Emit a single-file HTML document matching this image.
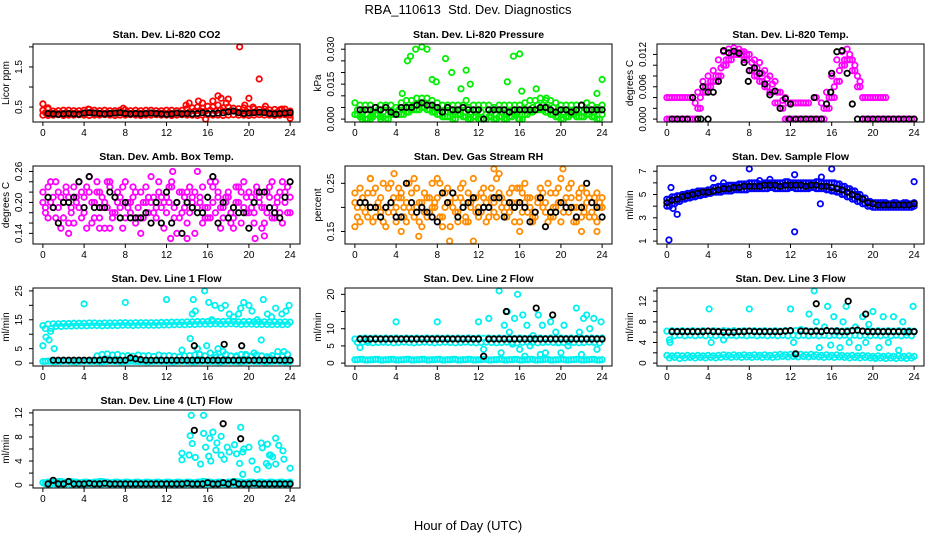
<!DOCTYPE html>
<html><head><meta charset="utf-8"><style>
body{margin:0;background:#fff}
svg{display:block;font-family:"Liberation Sans",Arial,sans-serif}
</style></head><body>
<svg id="chart" width="936" height="540" viewBox="0 0 936 540">
<rect width="936" height="540" fill="#fff"/>
<text x="468" y="14" font-size="13" text-anchor="middle" xml:space="preserve">RBA_110613  Std. Dev. Diagnostics</text>
<text x="468" y="530" font-size="13" text-anchor="middle">Hour of Day (UTC)</text>
</svg>
<script>
// ---------- data ----------
const hourTicks=[0,4,8,12,16,20,24];
// CO2
const co2Hi=[0.42,0.45,0.40,0.41,0.42,0.42,0.41,0.41,0.42,0.44,0.42,0.41,0.42,0.41,0.41,0.42,0.43,0.41,0.42,0.41,0.42,0.42,0.41,0.41,0.42,0.42,0.41,0.42,0.46,0.48,0.50,0.47,0.52,0.50,0.55,0.48,0.50,0.47,0.46,0.48,0.45,0.46,0.44,0.45,0.43,0.44,0.43,0.45,0.40];
const co2Mid=[0.36,0.35,0.36,0.35,0.36,0.35,0.36,0.35,0.36,0.37,0.36,0.35,0.36,0.35,0.36,0.35,0.36,0.35,0.36,0.35,0.36,0.35,0.36,0.35,0.36,0.35,0.36,0.35,0.38,0.40,0.41,0.39,0.42,0.40,0.43,0.40,0.41,0.39,0.38,0.39,0.37,0.38,0.37,0.38,0.36,0.37,0.36,0.37,0.35];
const co2Lo=[0.30,0.29,0.30,0.31,0.29,0.30,0.30,0.31,0.30,0.29,0.30,0.30,0.31,0.30,0.29,0.30,0.30,0.31,0.30,0.29,0.30,0.30,0.31,0.30,0.30,0.29,0.30,0.31,0.30,0.30,0.29,0.30,0.31,0.30,0.30,0.29,0.30,0.31,0.30,0.30,0.29,0.30,0.31,0.30,0.30,0.29,0.30,0.31,0.30];
const co2Black=[null,0.34,0.33,0.32,0.33,0.34,0.33,0.32,0.35,0.36,0.35,0.34,0.33,0.34,0.35,0.36,0.34,0.33,0.34,0.33,0.34,0.35,0.34,0.33,0.32,0.33,0.35,0.33,0.34,0.33,0.34,0.36,0.34,0.34,0.35,0.36,0.38,0.40,0.36,0.34,0.35,0.36,0.37,0.36,0.34,0.33,0.34,0.35,0.36];
const co2Out=[[0,0.58],[0.5,0.48],[4.4,0.45],[7.8,0.47],[13.9,0.55],[14.2,0.6],[15.1,0.65],[15.5,0.6],[15.8,0.2],[16.5,0.65],[17,0.78],[17.3,0.72],[17.8,0.6],[18,0.7],[19.1,2.0],[19.6,0.55],[20,0.72],[20.4,0.5],[21,1.2],[21.6,0.52],[23.2,0.45],[24,0.22]];
const co2Ticks=[0.5,1.0,1.5,2.0];const co2Labels=["0.5","","1.5",""];
// Pressure
const presHi=[.007,.006,.006,.006,.005,.006,.006,.006,.005,.007,.008,.008,.009,.009,.009,.008,.007,.006,.006,.006,.006,.006,.005,.006,.006,.006,.006,.005,.006,.006,.006,.006,.006,.007,.008,.008,.009,.008,.008,.007,.006,.006,.006,.006,.006,.007,.006,.005,.006];
const presMid=[.004,.003,.004,.003,.004,.003,.004,.003,.004,.004,.005,.006,.006,.007,.006,.005,.004,.003,.004,.003,.004,.003,.003,.004,.003,.002,.003,.004,.003,.003,.004,.003,.004,.004,.005,.006,.006,.005,.005,.004,.003,.004,.003,.004,.003,.004,.003,.004,.004];
const presLo=[.002,.001,0,.001,.002,.001,0,.002,.002,.002,.003,.004,.004,.005,.004,.003,.002,.001,.001,0,.002,.001,0,.001,0,0,.001,0,.001,0,.001,.002,0,.002,.003,.004,.004,.003,.002,.001,0,.001,.002,.001,.001,.002,.001,0,.002];
const presBlack=[null,.004,.004,.004,.005,.004,.005,.003,.002,.005,.005,.005,.006,.007,.006,.006,.005,.003,.005,.004,.004,.005,.004,.004,.004,.000,.004,.004,.004,.004,.003,.004,.004,.004,.004,.004,.005,.005,.004,.003,.004,.004,.003,.004,.006,.004,.004,.004,.004];
const presOut=[[4.6,.011],[5.1,.025],[5.4,.027],[5.9,.030],[6.5,.031],[7,.030],[7.5,.017],[7.9,.016],[8.8,.026],[9.4,.020],[10.3,.013],[10.8,.021],[11.2,.015],[14.8,.016],[15.4,.027],[16,.028],[16.2,.012],[17.6,.013],[23.5,.011],[24,.017],[10.8,.008],[18.6,.009],[0.7,0],[1.5,0],[2.5,0],[15.9,0]];
const presTicks=[0,.005,.010,.015,.020,.025,.030];const presLabels=["0.000","","","0.015","","","0.030"];
// Li-820 Temp
const tempHi=[.004,.004,.004,.004,.004,.004,.005,.007,.008,.009,.011,.0125,.013,.0132,.013,.0125,.012,.011,.0105,.009,.008,.007,.005,.004,.003,.003,.003,.003,null,.004,.003,.005,.008,.011,.0125,.013,.011,.008,.004,.004,.004,.004,.004,null,null,null,null,null,null];
const tempLo=[0,0,0,0,0,0,.002,.005,.006,.007,.008,.010,.011,.012,.012,.011,.009,.008,.007,.006,.005,.003,.002,0,0,0,0,0,0,0,0,.002,.004,.007,.010,.011,.009,.006,0,0,0,0,0,0,0,0,0,0,0];
const tempMid=[.004,.004,.004,.004,.004,.003,.004,.006,.007,.008,.0095,.011,.012,.0125,.0125,.012,.0105,.0095,.0085,.0075,.0065,.005,.0035,.003,.003,.003,.003,.003,null,null,.002,.004,.006,.009,.011,.012,.010,.007,.004,.004,.004,.004,.004,null,null,null,null,null,null];
const tempBlack=[null,0,0,0,0,.004,0,.006,.005,.005,.007,.0127,.0123,.0126,.0122,.0105,.009,.0095,.0085,.0065,.0045,.0052,.002,.0038,.0028,0,0,0,0,0,0,.0028,.0085,.0125,.0127,.0085,.0028,0,0,0,0,0,0,0,0,0,0,0,0];
const tempOut=[[3.3,0],[4,0],[7.9,.007],[11.9,0],[15.9,.005],[14.3,.004]];
const tempTicks=[0,.002,.004,.006,.008,.010,.012];const tempLabels=["0.000","","","0.006","","","0.012"];
// Amb box temp
const abA=[.22,.23,.21,.19,.17,.21,.16,.24,.18,.22,.20,.17,.15,.23,.21,.19,.24,.18,.16,.22,.20,.25,.17,.19,.21,.23,.14,.18,.22,.20,.26,.16,.19,.23,.21,.17,.22,.15,.20,.24,.18,.16,.21,.19,.23,.17,.22,.20,.18];
const abB=[.18,.20,.24,.15,.22,.19,.21,.17,.23,.16,.24,.21,.19,.17,.22,.15,.20,.23,.19,.17,.21,.18,.24,.15,.20,.17,.22,.19,.23,.14,.21,.19,.17,.24,.15,.20,.18,.23,.16,.21,.19,.22,.15,.18,.24,.20,.16,.23,.19];
const abC=[.20,.17,.19,.22,.20,.16,.23,.19,.21,.25,.17,.22,.20,.24,.18,.21,.17,.20,.22,.14,.23,.20,.19,.21,.18,.24,.20,.22,.16,.21,.19,.23,.17,.20,.22,.19,.21,.17,.23,.19,.22,.18,.20,.16,.21,.19,.18,.22,.21];
const abD=[.19,.24,.17,.21,.23,.18,.20,.22,.15,.20,.22,.19,.24,.18,.20,.23,.19,.21,.17,.20,.18,.21,.22,.20,.23,.19,.17,.21,.18,.22,.20,.17,.24,.18,.19,.21,.16,.20,.22,.18,.21,.23,.19,.22,.17,.21,.24,.18,.20];
const abBlack=[null,.21,.19,.16,.20,.20,.21,.24,.19,.25,.19,.19,.19,.22,.21,.17,.20,.17,.17,.17,.18,.16,.20,.16,.22,.16,.20,.14,.20,.19,.18,.18,.21,.25,.16,.20,.17,.19,.18,.18,.15,.20,.22,.22,.19,.18,.17,.21,.24];
const abOut=[[12.6,.26],[12.4,.13],[2.5,.14],[14,.13],[20.6,.13],[21.5,.135],[5.5,.15],[6.5,.15]];
const abTicks=[.14,.16,.18,.20,.22,.24,.26];const abLabels=["0.14","","","0.20","","","0.26"];
// Gas stream RH
const rhA=[.21,.24,.19,.26,.18,.22,.20,.25,.17,.23,.21,.19,.24,.16,.22,.20,.26,.18,.21,.23,.19,.25,.17,.22,.20,.24,.18,.21,.27,.19,.23,.20,.17,.25,.22,.19,.24,.21,.18,.23,.26,.20,.22,.17,.24,.21,.19,.23,.20];
const rhB=[.18,.20,.23,.17,.21,.25,.19,.22,.24,.18,.20,.26,.17,.23,.19,.21,.25,.20,.16,.22,.24,.18,.21,.19,.23,.17,.22,.26,.20,.18,.24,.21,.23,.19,.17,.22,.20,.25,.18,.21,.19,.24,.17,.23,.20,.22,.18,.21,.24];
const rhC=[.23,.17,.21,.20,.24,.19,.16,.21,.20,.22,.17,.23,.20,.21,.18,.25,.22,.16,.24,.20,.17,.21,.23,.26,.18,.22,.20,.19,.23,.21,.19,.17,.24,.21,.20,.18,.22,.19,.23,.20,.17,.22,.25,.20,.18,.23,.21,.17,.22];
const rhD=[.20,.22,.18,.23,.20,.17,.24,.19,.22,.20,.25,.18,.21,.19,.22,.20,.18,.23,.21,.19,.22,.17,.20,.22,.19,.21,.24,.18,.22,.20,.21,.24,.19,.22,.18,.21,.23,.17,.20,.24,.21,.19,.20,.22,.19,.18,.22,.20,.19];
const rhBlack=[null,.21,.21,.20,.20,.18,.20,.21,.18,.18,.25,.21,.19,.20,.19,.18,.17,.23,.21,.23,.18,.20,.21,.22,.19,.20,.20,.22,.22,.18,.21,.20,.21,.20,.17,.19,.22,.16,.19,.19,.21,.20,.20,.18,.20,.25,.21,.20,.18];
const rhOut=[[1.5,.26],[3.8,.27],[4.5,.15],[6.2,.14],[9.2,.13],[11.5,.13],[13.5,.28],[20.2,.28],[16,.15],[22,.15],[23.5,.15],[0,.16]];
const rhTicks=[.15,.20,.25];const rhLabels=["0.15","","0.25"];
// Sample flow
const sfHi=[4.6,4.8,4.9,5.0,5.1,5.2,5.3,5.3,5.4,5.6,5.7,5.7,5.8,5.8,5.9,5.9,6.0,6.0,5.9,6.0,6.0,6.0,6.0,6.1,6.0,6.0,6.0,6.0,6.0,6.1,6.0,6.0,6.0,5.9,5.7,5.5,5.3,5.0,4.7,4.4,4.3,4.3,4.3,4.2,4.3,4.2,4.3,4.2,4.3];
const sfLo=[4.0,4.2,4.4,4.6,4.7,4.8,4.9,5.0,5.1,5.2,5.2,5.3,5.3,5.4,5.4,5.4,5.5,5.5,5.5,5.5,5.6,5.5,5.5,5.5,5.6,5.5,5.5,5.5,5.6,5.5,5.5,5.4,5.3,5.2,5.0,4.8,4.6,4.4,4.2,4.0,3.9,3.9,3.9,3.9,3.9,3.9,3.9,3.9,4.0];
const sfBlack=[4.3,4.5,4.6,4.8,4.9,5.0,5.1,5.2,5.2,5.3,5.4,5.5,5.5,5.6,5.6,5.7,5.7,5.7,5.7,5.8,5.8,5.8,5.7,5.8,5.8,5.8,5.8,5.7,5.8,5.8,5.7,5.7,5.6,5.5,5.4,5.2,5.0,4.8,4.6,4.3,4.2,4.1,4.1,4.1,4.1,4.1,4.1,4.1,4.2];
const sfOut=[[0.2,1.1],[0.4,5.6],[0.6,3.8],[1,3.3],[4.5,6.4],[8,7.2],[9,6.2],[12.4,1.8],[12.4,6.7],[14.9,4.2],[16,7.2],[24,6.1],[5.5,6.0],[10,6.3],[15,6.5]];
const sfTicks=[1,2,3,4,5,6,7];const sfLabels=["1","","3","","5","","7"];
// Line 1
const l1Hi=[13,13.5,13.6,13.6,13.7,13.7,13.8,13.8,13.8,13.9,13.9,13.8,13.9,13.9,13.9,14,14,13.9,14,14,14,14,14,14.1,14.1,14.2,14.2,14.2,14.3,14.3,14.4,14.4,14.4,14.5,14.4,14.4,14.5,14.4,14.3,14.4,14.4,14.3,14.3,14.3,14.2,14.3,14.2,14.3,14.2];
const l1Lo=[12,11,12.7,12.7,12.8,12.8,12.9,12.9,12.9,13,13,12.9,13,13,13,13.1,13.1,13,13.1,13.1,13.1,13.1,13.1,13.2,13.2,13.3,13.3,13.3,13.4,13.4,13.5,13.5,13.5,13.6,13.5,13.5,13.6,13.5,13.4,13.5,13.5,13.4,13.4,13.4,13.3,13.4,13.3,13.4,13.3];
const l1Base=[0.6,0.7,0.5,0.6,0.7,0.6,0.5,0.6,0.7,0.6,0.6,0.5,0.6,0.7,0.6,0.5,0.6,0.7,0.6,0.6,0.5,0.6,0.7,0.6,0.6,0.5,0.6,0.7,0.6,0.5,0.6,0.7,0.6,0.6,0.5,0.6,0.7,0.6,0.5,0.6,0.7,0.6,0.6,0.5,0.6,0.7,0.6,0.5,0.6];
const l1Mid=[null,null,null,null,null,null,null,null,null,null,2.5,3,3.2,2.8,3,2.5,2.6,2.4,2.8,2.5,2.6,2.3,2.8,2.5,2.6,2.4,2.2,2.5,2.6,2.8,3,2.5,3.5,2.8,2,3,2.5,2.2,3,2.6,2.4,2.8,2.5,2.2,2.6,2.4,2.5,3,2.5];
const l1Black=[null,null,1,1,1,1,1,1,1,1,1,1,1.2,1,1,1,1,1.8,1.5,1.2,1,1,1,1,1,1,1,1,1,1,1,1,1,1,1,1,1,1,1,1,1,1,1,1,1,1,1,1,1];
const l1Out=[[0,6],[0.3,9],[0.6,8],[0.8,12],[1.1,5],[4,20.5],[8,21],[12,22],[13.5,4.5],[14.3,8.5],[14.5,17],[14.6,22],[14.8,18],[15,5],[15.7,25],[15.9,6],[16.1,21],[16.4,15],[16.7,20],[17,5],[17.3,19],[17.7,20],[18.1,17],[18.5,16],[19,17],[19.2,19],[19.5,21],[19.7,3],[20,20],[20.3,18],[20.8,15],[21.2,8],[21.4,22],[21.8,17],[22.2,16],[22.6,19],[22.8,4],[23.2,17],[23.6,18],[23.9,20],[15.2,3],[16.8,2],[17.5,4],[18.8,2.5],[20.5,3.5],[22,2],[23.4,4]];
const l1BlackOut=[[14.7,6],[17.6,6.5],[19.3,6]];
const l1Ticks=[0,5,10,15,20,25];const l1Labels=["0","5","","15","","25"];
// Line 2
const l2Hi=[7,7.2,7.3,7.2,7.3,7.2,7.3,7.2,7.3,7.2,7.3,7.2,7.3,7.2,7.3,7.2,7.3,7.2,7.3,7.2,7.3,7.2,7.3,7.2,7.3,7.2,7.3,7.2,7.3,7.2,7.3,7.2,7.3,7.2,7.3,7.2,7.3,7.2,7.3,7.2,7.3,7.2,7.3,7.2,7.3,7.2,7.3,7.2,7.3];
const l2Lo=[6,6.1,6,5.9,6,6.1,6,5.9,6,6.1,6,5.9,6,6.1,6,5.9,6,6.1,6,5.9,6,6.1,6,5.9,6,6.1,6,5.9,6,6.1,6,5.9,6,6.1,6,5.9,6,6.1,6,5.9,6,6.1,6,5.9,6,6.1,6,5.9,6];
const l2Base=[1,1.1,0.9,1,1.1,0.9,1,1.1,0.9,1,1.1,0.9,1,1.1,0.9,1,1.1,0.9,1,1.1,0.9,1,1.1,0.9,1,1.1,0.9,1,1.1,0.9,1,1.1,0.9,1,1.1,0.9,1,1.1,0.9,1,1.1,0.9,1,1.1,0.9,1,1.1,0.9,1];
const l2Black=[null,7,7,7,7,7,7,7,7,7,7,7,7,7,7,7,7,7,7,7,7,7,7,7,7,2,7,7,7,7,7,7,7,7,7,7,7,7,7,7,7,7,7,7,7,7,7,7,7];
const l2Out=[[4,12],[8,12],[12,12],[12.5,4],[13,13],[14,21],[14.2,3],[14.5,11],[14.8,15],[15,9],[15.5,13],[15.8,20],[16,4],[16.3,14],[16.7,11],[17,5],[17.3,8],[17.8,14],[18.2,11],[18.5,3],[19,12],[19.5,9],[19.8,6],[20.3,11],[20.7,5],[21.5,16],[21.8,9],[22.2,13],[22.5,14],[22.8,10],[23.2,13],[23.5,4],[23.9,12],[16.5,2],[18,2.5],[20,3],[22,2.5],[15.3,5.5],[0.5,4.5],[1.2,6.5]];
const l2BlackOut=[[14.7,15],[17.6,16],[19.2,14]];
const l2Ticks=[0,5,10,15,20];const l2Labels=["0","5","10","","20"];
// Line 3
const l3Hi=[6.2,6.3,6.2,6.3,6.2,6.3,6.2,6.3,6.2,6.3,6.2,6.3,6.2,6.3,6.2,6.3,6.2,6.3,6.2,6.3,6.2,6.3,6.2,6.3,6.2,6.3,6.2,6.3,6.2,6.3,6.2,6.3,6.2,6.3,6.2,6.3,6.2,6.3,6.2,6.3,6.2,6.3,6.2,6.3,6.2,6.3,6.2,6.3,6.2];
const l3Lo=[4.5,5.3,5.4,5.3,5.4,5.3,5.4,5.3,5.4,5.3,5.4,5.3,5.4,5.3,5.4,5.3,5.4,5.3,5.4,5.3,5.4,5.3,5.4,5.3,5.4,5.3,5.4,5.3,5.4,5.3,5.4,5.3,5.4,5.3,5.4,5.3,5.4,5.3,5.4,5.3,5.4,5.3,5.4,5.3,5.4,5.3,5.4,5.3,5.4];
const l3Base=[1.5,1.4,1.5,1.4,1.5,1.4,1.5,1.4,1.5,1.4,1.5,1.6,1.5,1.6,1.5,1.6,1.5,1.6,1.5,1.6,1.5,1.6,1.7,1.6,1.7,1.6,1.7,1.6,1.7,1.6,1.5,1.6,1.5,1.6,1.5,1.4,1.5,1.4,1.5,1.4,1.3,1.4,1.3,1.4,1.3,1.4,1.3,1.4,1.3];
const l3Base2=[1.0,1.1,0.9,1.0,1.1,1.0,1.1,1.0,1.1,1.0,1.1,1.2,1.1,1.2,1.1,1.2,1.1,1.2,1.1,1.2,1.1,1.2,1.3,1.2,1.3,1.2,1.3,1.2,1.3,1.2,1.1,1.2,1.1,1.2,1.1,1.0,1.1,1.0,1.1,1.0,0.9,1.0,0.9,1.0,0.9,1.0,0.9,1.0,0.9];
const l3Black=[null,6.1,6.1,6.1,6.1,6.1,6.1,6.1,6.2,6.1,6.1,6,6,6,6.1,6.1,6.2,6.1,6.1,6.1,6.1,6.1,6.1,6.2,6.3,1.8,6.2,6.2,6.1,6.2,6.1,6.3,6.2,6.2,6.1,6.1,6.3,6.4,6.2,6.1,6.1,6.1,6.1,6.1,6.1,6.1,6.1,6.1,6.1];
const l3Out=[[4.1,10.5],[8,10.5],[4.3,4],[12,10.5],[12.3,4],[13,6.5],[13.8,9.5],[14.3,14],[14.5,8],[14.8,3],[15.3,7],[15.6,11],[15.9,3.5],[16.2,9],[16.5,6],[16.8,3],[17.1,8],[17.4,11],[17.7,4],[18.3,7],[18.6,3],[19,9],[19.3,4],[19.6,7.5],[20,10],[20.2,1],[20.6,3],[21,9],[21.5,4],[22,9],[22.5,2.5],[22.9,8],[23.3,6],[23.9,11],[5.5,4.5],[0.3,4]];
const l3BlackOut=[[14.5,11.5],[17.6,12],[19.3,9.5]];
const l3Ticks=[0,2,4,6,8,10,12,14];const l3Labels=["0","","4","","8","","12",""];
// Line 4
const l4Hi=[0.4,0.5,0.5,0.6,0.5,0.6,0.5,0.4,0.5,0.4,0.5,0.6,0.5,0.4,0.5,0.4,0.5,0.4,0.5,0.4,0.5,0.4,0.5,0.4,0.5,0.4,0.5,0.4,0.5,0.4,0.5,0.6,0.5,0.4,0.5,0.4,0.5,0.6,0.5,0.4,0.5,0.4,0.5,0.4,0.5,0.4,0.5,0.4,0.5];
const l4Lo=[0.2,0.1,0.2,0.1,0.2,0.1,0.2,0.1,0.2,0.1,0.2,0.1,0.2,0.1,0.2,0.1,0.2,0.1,0.2,0.1,0.2,0.1,0.2,0.1,0.2,0.1,0.2,0.1,0.2,0.1,0.2,0.1,0.2,0.1,0.2,0.1,0.2,0.1,0.2,0.1,0.2,0.1,0.2,0.1,0.2,0.1,0.2,0.1,0.2];
const l4Black=[null,0.2,0.8,0.2,0.2,0.6,0.2,0.2,0.2,0.3,0.2,0.2,0.3,0.2,0.2,0.2,0.2,0.2,0.2,0.2,0.2,0.2,0.2,0.2,0.2,0.2,0.2,0.2,0.3,0.2,0.2,0.2,0.4,0.2,0.2,0.4,0.2,0.5,0.2,0.2,0.2,0.3,0.2,0.2,0.2,0.2,0.2,0.2,0.2];
const l4Out=[[13.5,5.3],[13.5,4.2],[14.2,5],[14.3,8.2],[14.4,11.6],[14.5,6.9],[14.8,4.6],[15.3,3.5],[15.6,11.6],[15.6,8.6],[15.8,6.3],[16.1,4.8],[16.2,7.8],[16.3,4],[16.5,8.8],[16.8,5.8],[16.9,7],[17.3,5],[17.3,8.1],[17.6,4.3],[17.9,6.3],[18.1,5.5],[18.6,6.7],[18.8,5.2],[19.2,9.6],[19.1,3.6],[19.4,5.5],[19.4,1.8],[19.5,6],[20,6.3],[20.3,4],[20.8,2.6],[21.2,7],[21.3,6.2],[21.7,3.6],[21.9,3.2],[22.1,5],[22.3,4.7],[22.6,7.8],[22.6,3.5],[22.9,6.6],[23.4,4.3],[23.3,5.7],[24,2.8],[21.8,6.8],[22.0,5.0]];
const l4BlackOut=[[14.7,9.1],[17.5,10.2],[19.2,7.7]];
const l4Ticks=[0,2,4,6,8,10,12];const l4Labels=["0","","4","","8","","12"];

// ---------- drawing ----------
const NS="http://www.w3.org/2000/svg";
const svg=document.getElementById('chart');
function mk(tag,attrs,parent){const e=document.createElementNS(NS,tag);for(const k in attrs)e.setAttribute(k,attrs[k]);(parent||svg).appendChild(e);return e;}
const SW=1.8,R=2.7;
function panel(col,row,title,ylab,ymin,ymax,ticks,labels,slug){
  const L=33+312*col,W=267,T=44+122*row,H=78;
  const pad=(ymax-ymin)*0.04;const y0=ymin-pad,y1=ymax+pad;
  const g=mk('g',{});
  
  
  const xs=h=>L+(h+0.96)/25.92*W;
  const ys=v=>T+H-(v-y0)/(y1-y0)*H;
  const pts=mk('g',{},g);
  
  
  const fr=mk('rect',{x:L,y:T,width:W,height:H,fill:'none',stroke:'#000','stroke-width':1},g);
  
  
  const t=mk('text',{x:L+W/2,y:T-6,'font-size':10.5,'font-weight':'bold','text-anchor':'middle'},g);t.textContent=title;
  
  
  const yl=mk('text',{transform:`translate(${L-24},${T+H/2}) rotate(-90)`,'font-size':10,'text-anchor':'middle'},g);yl.textContent=ylab;
  
  
  const xa=mk('g',{},g);
  
  
  mk('line',{x1:xs(hourTicks[0]),x2:xs(hourTicks[hourTicks.length-1]),y1:T+H,y2:T+H,stroke:'#000'},xa);
  hourTicks.forEach(h=>{mk('line',{x1:xs(h),x2:xs(h),y1:T+H,y2:T+H+4,stroke:'#000'},xa);
    const tx=mk('text',{x:xs(h),y:T+H+14,'font-size':10,'text-anchor':'middle'},xa);tx.textContent=String(h);});
  const ya=mk('g',{},g);
  
  
  mk('line',{x1:L,x2:L,y1:ys(ticks[0]),y2:ys(ticks[ticks.length-1]),stroke:'#000'},ya);
  ticks.forEach((v,i)=>{mk('line',{x1:L-4,x2:L,y1:ys(v),y2:ys(v),stroke:'#000'},ya);
    if(labels[i]){const tx=mk('text',{transform:`translate(${L-11},${ys(v)}) rotate(-90)`,'font-size':10,'text-anchor':'middle'},ya);tx.textContent=labels[i];}});
  return {grid(arr,color,name,off){const o=off||0;arr.forEach((v,i)=>{if(v===null)return;
      const h=i*0.5+o;if(h>24)return;
      const c=mk('circle',{cx:xs(h),cy:ys(v),r:R,fill:'none',stroke:color,'stroke-width':SW},pts);
      
      });},
    pairs(arr,color,name){arr.forEach(p=>{
      const c=mk('circle',{cx:xs(p[0]),cy:ys(p[1]),r:R,fill:'none',stroke:color,'stroke-width':SW},pts);
      
      });}};
}
const K='#000';
let p=panel(0,0,'Stan. Dev. Li-820 CO2','Licor ppm',0.2,2.0,co2Ticks,co2Labels,'co2');
p.grid(co2Hi,'#ff0000','co2-point');p.grid(co2Mid,'#ff0000','co2-point',0.25);p.grid(co2Lo,'#ff0000','co2-point');p.pairs(co2Out,'#ff0000','co2-point');p.grid(co2Black,K,'co2-mean-point');
p=panel(1,0,'Stan. Dev. Li-820 Pressure','kPa',0,0.031,presTicks,presLabels,'pressure');
p.grid(presHi,'#00ee00','pressure-point');p.grid(presMid,'#00ee00','pressure-point',0.25);p.grid(presLo,'#00ee00','pressure-point');p.grid(presLo,'#00ee00','pressure-point',0.25);p.pairs(presOut,'#00ee00','pressure-point');p.grid(presBlack,K,'pressure-mean-point');
p=panel(2,0,'Stan. Dev. Li-820 Temp.','degrees C',0,0.0134,tempTicks,tempLabels,'licor-temp');
p.grid(tempHi,'#ff00ff','licor-temp-point');p.grid(tempMid,'#ff00ff','licor-temp-point',0.25);p.grid(tempLo,'#ff00ff','licor-temp-point');p.grid(tempLo,'#ff00ff','licor-temp-point',0.25);p.grid(tempBlack,K,'licor-temp-mean-point');p.pairs(tempOut,K,'licor-temp-mean-point');
p=panel(0,1,'Stan. Dev. Amb. Box Temp.','degrees C',0.125,0.265,abTicks,abLabels,'box-temp');
p.grid(abA,'#ff00ff','box-temp-point');p.grid(abB,'#ff00ff','box-temp-point',0.25);p.grid(abC,'#ff00ff','box-temp-point');p.grid(abD,'#ff00ff','box-temp-point',0.25);p.pairs(abOut,'#ff00ff','box-temp-point');p.grid(abBlack,K,'box-temp-mean-point');
p=panel(1,1,'Stan. Dev. Gas Stream RH','percent',0.13,0.28,rhTicks,rhLabels,'rh');
p.grid(rhA,'#ff8c00','rh-point');p.grid(rhB,'#ff8c00','rh-point',0.25);p.grid(rhC,'#ff8c00','rh-point');p.grid(rhD,'#ff8c00','rh-point',0.25);p.pairs(rhOut,'#ff8c00','rh-point');p.grid(rhBlack,K,'rh-mean-point');
p=panel(2,1,'Stan. Dev. Sample Flow','ml/min',1,7.2,sfTicks,sfLabels,'sample-flow');
p.grid(sfHi,'#0000ff','sample-flow-point');p.grid(sfLo,'#0000ff','sample-flow-point',0.25);p.grid(sfHi,'#0000ff','sample-flow-point',0.25);p.grid(sfLo,'#0000ff','sample-flow-point');p.pairs(sfOut,'#0000ff','sample-flow-point');p.grid(sfBlack,K,'sample-flow-mean-point');
const CY='#00f0f0';
p=panel(0,2,'Stan. Dev. Line 1 Flow','ml/min',0,25,l1Ticks,l1Labels,'line1');
p.grid(l1Hi,CY,'line1-point');p.grid(l1Lo,CY,'line1-point',0.25);p.grid(l1Base,CY,'line1-point');p.grid(l1Base,CY,'line1-point',0.25);p.grid(l1Mid,CY,'line1-point',0.25);p.pairs(l1Out,CY,'line1-point');p.grid(l1Black,K,'line1-mean-point');p.pairs(l1BlackOut,K,'line1-mean-point');
p=panel(1,2,'Stan. Dev. Line 2 Flow','ml/min',0,21,l2Ticks,l2Labels,'line2');
p.grid(l2Hi,CY,'line2-point');p.grid(l2Lo,CY,'line2-point',0.25);p.grid(l2Base,CY,'line2-point');p.grid(l2Base,CY,'line2-point',0.25);p.pairs(l2Out,CY,'line2-point');p.grid(l2Black,K,'line2-mean-point');p.pairs(l2BlackOut,K,'line2-mean-point');
p=panel(2,2,'Stan. Dev. Line 3 Flow','ml/min',0,14,l3Ticks,l3Labels,'line3');
p.grid(l3Hi,CY,'line3-point');p.grid(l3Lo,CY,'line3-point',0.25);p.grid(l3Base,CY,'line3-point');p.grid(l3Base2,CY,'line3-point',0.25);p.pairs(l3Out,CY,'line3-point');p.grid(l3Black,K,'line3-mean-point');p.pairs(l3BlackOut,K,'line3-mean-point');
p=panel(0,3,'Stan. Dev. Line 4 (LT) Flow','ml/min',0,12,l4Ticks,l4Labels,'line4');
p.grid(l4Hi,CY,'line4-point');p.grid(l4Lo,CY,'line4-point',0.25);p.grid(l4Hi,CY,'line4-point',0.25);p.pairs(l4Out,CY,'line4-point');p.grid(l4Black,K,'line4-mean-point');p.pairs(l4BlackOut,K,'line4-mean-point');
</script>
</body></html>
